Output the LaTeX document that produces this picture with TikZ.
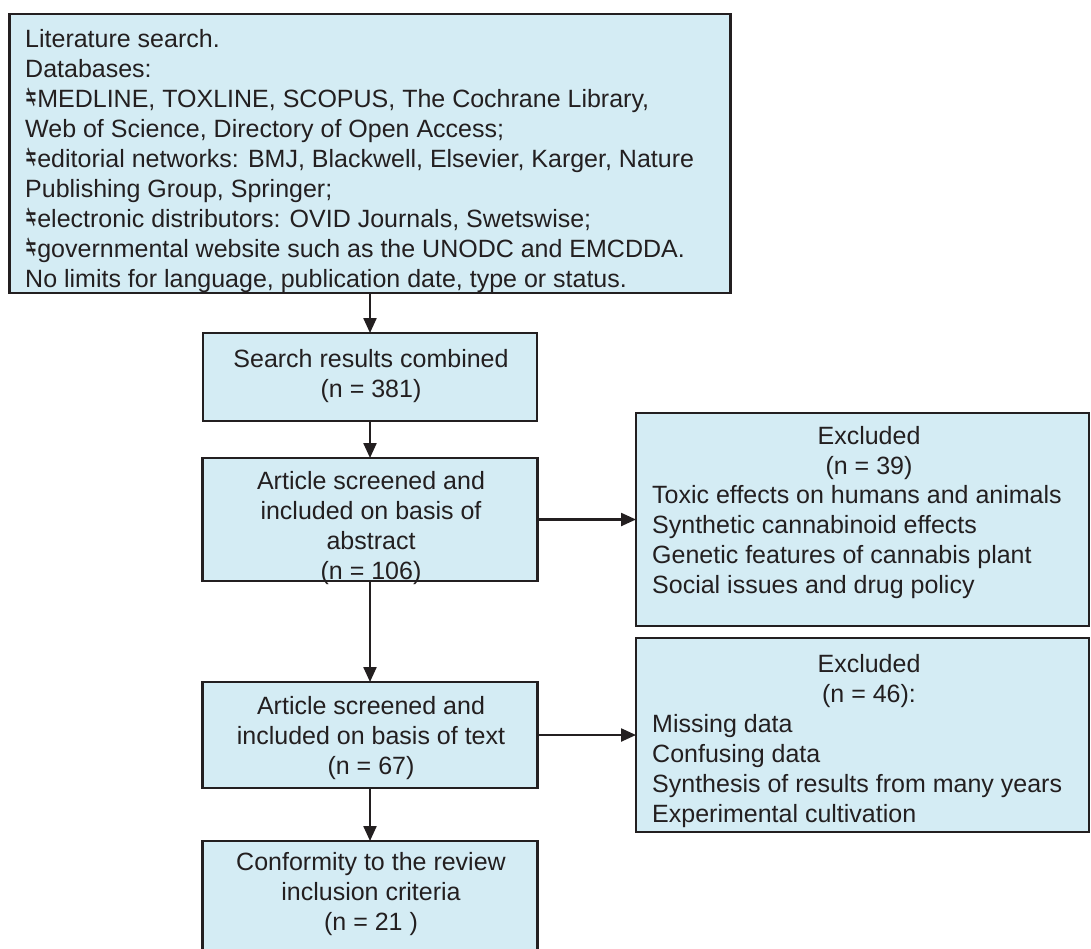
\documentclass[tikz,border=0pt]{standalone}
\usepackage{fontspec}
\setmainfont{Liberation Sans}
\newfontfamily\signfont{DejaVu Sans}
\usepackage{graphicx}
\usepackage{xcolor}
\usetikzlibrary{arrows.meta}

\definecolor{boxfill}{RGB}{212,236,244}
\definecolor{boxline}{RGB}{35,31,32}
\newcommand{\dbul}{\reflectbox{\scalebox{0.58}[1.3]{\signfont ≠}}}

\begin{document}
\begin{tikzpicture}[x=1pt,y=1pt,yscale=-1,
  flowbox/.style={draw=boxline,line width=2.8pt,fill=boxfill,inner sep=0pt,outer sep=0pt},
  txt/.style={text=boxline,inner sep=0pt,font=\fontsize{25}{30}\selectfont},
  arrowline/.style={draw=boxline,line width=2.3pt,-{Triangle[length=15pt,width=13pt]}}]
\clip (0,0) rectangle (1091,948);

%Shape: Rectangle
\node[flowbox,minimum width=721,minimum height=279] (litsearch) at (370,153.5) {};
%Shape: Rectangle
\node[flowbox,minimum width=334,minimum height=88] (combined) at (370,377) {};
%Shape: Rectangle
\node[flowbox,minimum width=335,minimum height=123] (abstract) at (370,519.5) {};
%Shape: Rectangle
\node[flowbox,minimum width=335,minimum height=106] (fulltext) at (370,735) {};
%Shape: Rectangle
\node[flowbox,minimum width=335,minimum height=120] (criteria) at (370,901) {};
%Shape: Rectangle
\node[flowbox,minimum width=453,minimum height=213] (exclone) at (862.5,519.5) {};
%Shape: Rectangle
\node[flowbox,minimum width=453,minimum height=194] (excltwo) at (862.5,735) {};

%Straight Lines
\draw[arrowline] (litsearch) -- (combined);
\draw[arrowline] (combined) -- (abstract);
\draw[arrowline] (abstract) -- (fulltext);
\draw[arrowline] (fulltext) -- (criteria);
\draw[arrowline] (abstract) -- (exclone);
\draw[arrowline] (fulltext) -- (excltwo);

% Text Node
\node[txt,anchor=north west,align=left] (littxt) at (25,29) {Literature search.\\
Databases:\\
\dbul MEDLINE, TOXLINE, SCOPUS, The Cochrane Library,\\
Web of Science, Directory of Open Access;\\
\dbul editorial networks: BMJ, Blackwell, Elsevier, Karger, Nature\\
Publishing Group, Springer;\\
\dbul electronic distributors: OVID Journals, Swetswise;\\
\dbul governmental website such as the UNODC and EMCDDA.\\
No limits for language, publication date, type or status.};

% Text Node
\node[txt,anchor=north,align=center] (combinedtxt) at (371,349) {Search results combined\\(n = 381)};
% Text Node
\node[txt,anchor=north,align=center] (abstracttxt) at (371,471) {Article screened and\\included on basis of\\abstract\\(n = 106)};
% Text Node
\node[txt,anchor=north,align=center] (fulltexttxt) at (371,696) {Article screened and\\included on basis of text\\(n = 67)};
% Text Node
\node[txt,anchor=north,align=center] (criteriatxt) at (371,852) {Conformity to the review\\inclusion criteria\\(n = 21 )};

% Text Node
\node[txt,anchor=north,align=center] (exclonehead) at (869,426) {Excluded\\(n = 39)};
\node[txt,anchor=north west,align=left] (exclonelist) at (652,485) {Toxic effects on humans and animals\\
Synthetic cannabinoid effects\\
Genetic features of cannabis plant\\
Social issues and drug policy};

% Text Node
\node[txt,anchor=north,align=center] (excltwohead) at (869,654) {Excluded\\(n = 46):};
\node[txt,anchor=north west,align=left] (excltwolist) at (652,714) {Missing data\\
Confusing data\\
Synthesis of results from many years\\
Experimental cultivation};

\end{tikzpicture}
\end{document}
